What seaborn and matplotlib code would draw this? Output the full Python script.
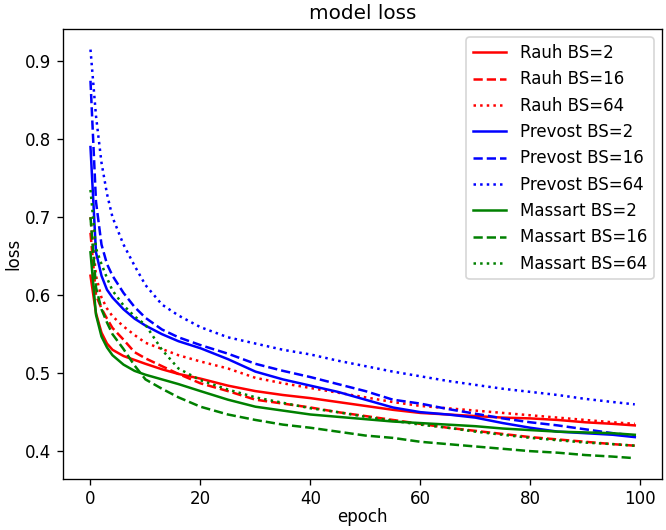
import numpy as np
import pandas as pd
import matplotlib
matplotlib.use("Agg")
import matplotlib.pyplot as plt
import seaborn as sns

epochs = [0, 1, 2, 3, 4, 6, 8, 10, 13, 16, 20, 25, 30, 35, 40, 45, 50,
          55, 60, 65, 70, 75, 80, 85, 90, 95, 99]

# Rauh
rauh_bs2 = [0.625, 0.577, 0.552, 0.538, 0.530, 0.522, 0.517, 0.512, 0.505, 0.499,
            0.493, 0.484, 0.477, 0.472, 0.468, 0.463, 0.458, 0.453, 0.449, 0.447,
            0.445, 0.443, 0.442, 0.440, 0.437, 0.435, 0.433]
rauh_bs16 = [0.680, 0.600, 0.583, 0.570, 0.558, 0.543, 0.527, 0.519, 0.509, 0.499,
             0.487, 0.477, 0.466, 0.461, 0.456, 0.450, 0.445, 0.440, 0.435, 0.430,
             0.426, 0.422, 0.418, 0.415, 0.412, 0.409, 0.407]
rauh_bs64 = [0.700, 0.625, 0.597, 0.583, 0.573, 0.560, 0.549, 0.539, 0.531, 0.523,
             0.515, 0.506, 0.494, 0.487, 0.481, 0.475, 0.469, 0.463, 0.458, 0.455,
             0.452, 0.449, 0.446, 0.443, 0.440, 0.437, 0.435]

# Prevost
prevost_bs2 = [0.790, 0.655, 0.625, 0.607, 0.597, 0.582, 0.570, 0.561, 0.550, 0.541,
               0.532, 0.518, 0.502, 0.492, 0.484, 0.476, 0.466, 0.456, 0.450, 0.447,
               0.443, 0.436, 0.430, 0.425, 0.423, 0.421, 0.418]
prevost_bs16 = [0.875, 0.720, 0.665, 0.640, 0.625, 0.603, 0.585, 0.571, 0.556, 0.546,
                0.536, 0.525, 0.512, 0.503, 0.495, 0.486, 0.477, 0.466, 0.461, 0.454,
                0.448, 0.442, 0.437, 0.433, 0.428, 0.423, 0.420]
prevost_bs64 = [0.915, 0.830, 0.770, 0.730, 0.700, 0.665, 0.638, 0.613, 0.588, 0.574,
                0.559, 0.546, 0.538, 0.530, 0.524, 0.516, 0.509, 0.502, 0.496, 0.490,
                0.485, 0.480, 0.476, 0.472, 0.467, 0.463, 0.460]

# Massart
massart_bs2 = [0.655, 0.575, 0.547, 0.533, 0.523, 0.511, 0.503, 0.498, 0.492, 0.486,
               0.477, 0.466, 0.457, 0.452, 0.447, 0.444, 0.441, 0.438, 0.436, 0.434,
               0.432, 0.429, 0.427, 0.425, 0.424, 0.423, 0.421]
massart_bs16 = [0.700, 0.610, 0.582, 0.565, 0.550, 0.531, 0.510, 0.492, 0.480, 0.469,
                0.457, 0.447, 0.440, 0.434, 0.430, 0.425, 0.420, 0.417, 0.412, 0.409,
                0.406, 0.403, 0.400, 0.398, 0.395, 0.393, 0.391]
massart_bs64 = [0.735, 0.660, 0.640, 0.622, 0.606, 0.587, 0.573, 0.562, 0.530, 0.506,
                0.491, 0.479, 0.469, 0.462, 0.455, 0.450, 0.444, 0.439, 0.434, 0.430,
                0.425, 0.421, 0.417, 0.414, 0.411, 0.409, 0.407]

series = [
    ('Rauh BS=2', rauh_bs2, 'red', '-'),
    ('Rauh BS=16', rauh_bs16, 'red', '--'),
    ('Rauh BS=64', rauh_bs64, 'red', ':'),
    ('Prevost BS=2', prevost_bs2, 'blue', '-'),
    ('Prevost BS=16', prevost_bs16, 'blue', '--'),
    ('Prevost BS=64', prevost_bs64, 'blue', ':'),
    ('Massart BS=2', massart_bs2, 'green', '-'),
    ('Massart BS=16', massart_bs16, 'green', '--'),
    ('Massart BS=64', massart_bs64, 'green', ':'),
]

# rendered at 120 dpi so text and lines come out a bit larger, like the original
fig, ax = plt.subplots(figsize=(666 / 120, 530 / 120), dpi=120)
fig.subplots_adjust(left=0.095, right=0.994, top=0.945, bottom=0.097)

for label, vals, color, ls in series:
    df = pd.DataFrame({'epoch': epochs, 'loss': vals})
    sns.lineplot(data=df, x='epoch', y='loss', ax=ax, color=color,
                 linestyle=ls, linewidth=1.5, label=label)

ax.set_title('model loss')
ax.set_xlabel('epoch', labelpad=0)
ax.set_ylabel('loss', labelpad=2)
ax.set_xticks([0, 20, 40, 60, 80, 100])
ax.legend(loc='upper right')

plt.savefig('out.png', dpi=120)
plt.close()
